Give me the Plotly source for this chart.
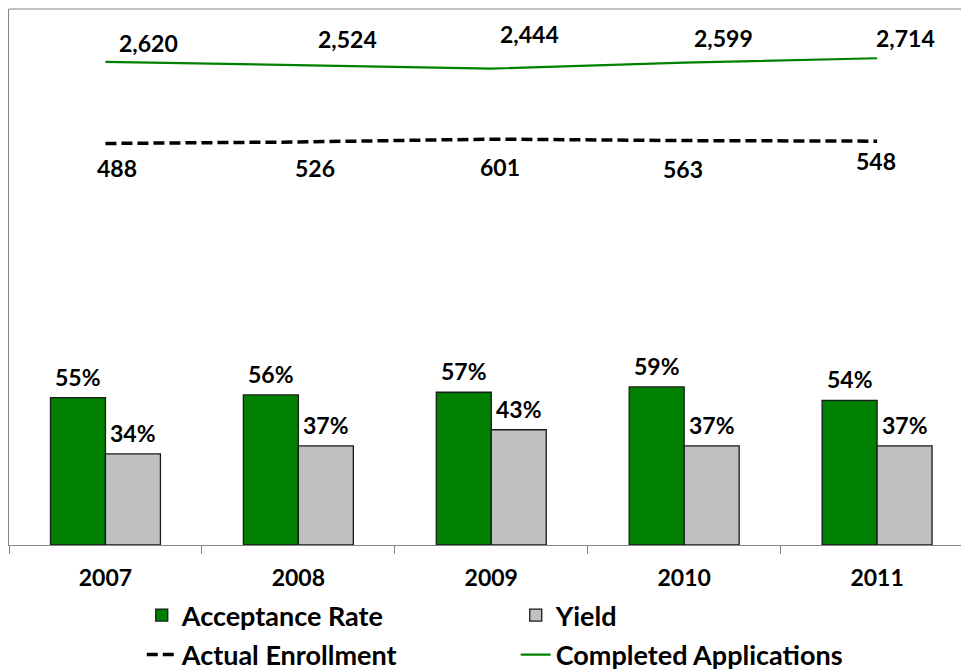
import plotly.graph_objects as go

years = ["2007", "2008", "2009", "2010", "2011"]
acceptance_rate = [0.55, 0.56, 0.57, 0.59, 0.54]
yield_rate = [0.34, 0.37, 0.43, 0.37, 0.37]
actual_enrollment = [488, 526, 601, 563, 548]
completed_applications = [2620, 2524, 2444, 2599, 2714]

# label offsets in pixels (placement only)
app_label_dx = [43, 49, 38, 39, 28]
app_label_dy = [19, 27, 35, 25, 20]
enr_label_dx = [12, 17, 9, -1, -1]
enr_label_dy = [-25, -26, -28, -28, -20]

FONT = "Lato"
FS = 23
LFS = 27
GREEN = "#008000"
GRAY = "#C0C0C0"
AXIS = "#868686"

fig = go.Figure()
fig.add_trace(go.Bar(x=years, y=acceptance_rate, name="Acceptance Rate",
                     marker=dict(color=GREEN, line=dict(color="#1a1a1a", width=1.3)),
                     legend="legend"))
fig.add_trace(go.Bar(x=years, y=yield_rate, name="Yield",
                     marker=dict(color=GRAY, line=dict(color="#1a1a1a", width=1.3)),
                     legend="legend"))
fig.add_trace(go.Scatter(x=years, y=actual_enrollment, name="Actual Enrollment",
                         mode="lines", yaxis="y2",
                         line=dict(color="black", width=3.5, dash="11px,5px"),
                         legend="legend2"))
fig.add_trace(go.Scatter(x=years, y=completed_applications, name="Completed Applications",
                         mode="lines", yaxis="y2",
                         line=dict(color=GREEN, width=2.2),
                         legend="legend2"))

ann = []
for i in range(len(years)):
    ann.append(dict(x=i, y=acceptance_rate[i], xref="x", yref="y",
                    text=f"{acceptance_rate[i]:.0%}",
                    showarrow=False, xshift=-27.5, yanchor="bottom", yshift=5))
    ann.append(dict(x=i, y=yield_rate[i], xref="x", yref="y",
                    text=f"{yield_rate[i]:.0%}",
                    showarrow=False, xshift=27.5, yanchor="bottom", yshift=5))
    ann.append(dict(x=i, y=completed_applications[i], xref="x", yref="y2",
                    text=f"{completed_applications[i]:,}", showarrow=False,
                    xshift=app_label_dx[i], yshift=app_label_dy[i], yanchor="middle"))
    ann.append(dict(x=i, y=actual_enrollment[i], xref="x", yref="y2",
                    text=f"{actual_enrollment[i]:,}", showarrow=False,
                    xshift=enr_label_dx[i], yshift=enr_label_dy[i], yanchor="middle"))

fig.update_layout(
    width=961, height=670,
    margin=dict(l=8.5, r=0, t=9, b=125),
    paper_bgcolor="white", plot_bgcolor="white",
    font=dict(family=FONT, size=FS, color="black", weight="bold"),
    barmode="group", bargap=0.43, bargroupgap=0,
    xaxis=dict(type="category", range=[-0.5, 4.435], showline=True, linecolor=AXIS,
               linewidth=1.2, ticks="outside", tickson="boundaries", ticklen=8,
               tickcolor=AXIS, tickwidth=1.2, showgrid=False, ticklabelstandoff=12,
               tickfont=dict(family=FONT, size=FS, color="black", weight="bold")),
    yaxis=dict(range=[0, 2], showline=True, linecolor=AXIS, linewidth=1.2,
               showticklabels=False, showgrid=False, zeroline=False, ticks=""),
    yaxis2=dict(range=[-10000, 4000], overlaying="y", side="right", visible=False),
    legend=dict(orientation="h", xref="container", yref="container",
                x=0.1475, y=1 - 615.5 / 670, xanchor="left", yanchor="middle",
                entrywidth=329, bgcolor="rgba(0,0,0,0)",
                font=dict(family=FONT, size=LFS, color="black", weight="bold")),
    legend2=dict(orientation="h", xref="container", yref="container",
                 x=0.1475, y=1 - 655 / 670, xanchor="left", yanchor="middle",
                 entrywidth=329, bgcolor="rgba(0,0,0,0)",
                 font=dict(family=FONT, size=LFS, color="black", weight="bold")),
    annotations=ann,
    shapes=[dict(type="line", xref="paper", yref="paper", x0=0, x1=1, y0=1, y1=1,
                 line=dict(color=AXIS, width=1.2))],
)

fig.write_html("out.html", config={"displayModeBar": False},
               post_script="document.body.style.margin='0';document.body.style.overflow='hidden';")
